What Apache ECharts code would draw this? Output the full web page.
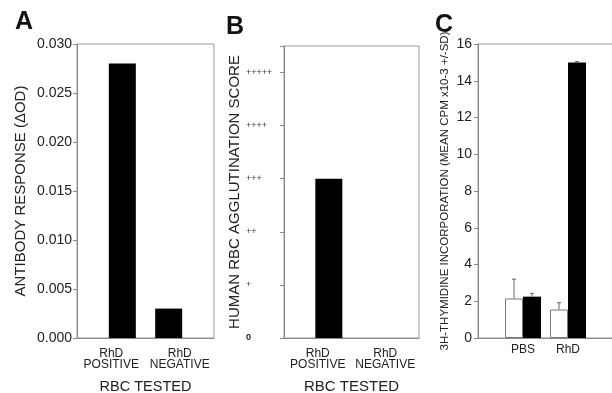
<!DOCTYPE html>
<html>
<head>
<meta charset="utf-8">
<script src="https://cdn.jsdelivr.net/npm/echarts@6/dist/echarts.min.js"></script>
<style>
  html, body { margin: 0; padding: 0; background: #fff; }
  #chart { width: 612px; height: 393px; }
</style>
</head>
<body>
<div id="chart"></div>
<script>
// panel A - antibody response
var aCategories = ['RhD\nPOSITIVE', 'RhD\nNEGATIVE'];
var aValues = [0.028, 0.003];
var aTicks = [0, 0.005, 0.010, 0.015, 0.020, 0.025, 0.030];

// panel B - agglutination score (0..5 shown as + signs)
var bCategories = ['RhD\nPOSITIVE', 'RhD\nNEGATIVE'];
var bValues = [3, 0];
var bTickLabels = ['0', '+', '++', '+++', '++++', '+++++'];

// panel C - 3H-thymidine incorporation
var cCategories = ['PBS', 'RhD'];
var cWhite = [2.15, 1.55];
var cWhiteSD = [1.05, 0.37];
var cBlack = [2.25, 15.0];
var cBlackSD = [0.18, 0.05];

var font = 'Liberation Sans, Arial, sans-serif';
var axisGray = '#8a8a8a';
var textColor = '#222';

var chart = echarts.init(document.getElementById('chart'));

// split the two bars of panel A/B into two series so they sit closer together
function splitFirst(arr) { return [arr[0], '-']; }
function splitSecond(arr) { return ['-', arr[1]]; }

// pad the C categories so the axis runs off the right edge like the original
var cAxisCats = [''].concat(cCategories).concat(['']);
function padC(arr) { return ['-'].concat(arr).concat(['-']); }

function errorBarItem(values, sds, offset) {
    var data = [];
    values.forEach(function (v, i) {
        data.push([i + 1, v, sds[i]]);
    });
    return {
        type: 'custom',
        xAxisIndex: 2,
        yAxisIndex: 2,
        z: 5,
        data: data,
        renderItem: function (params, api) {
            var x = api.value(0);
            var top = api.coord([x, api.value(1) + api.value(2)]);
            var base = api.coord([x, api.value(1)]);
            var cx = base[0] + offset;
            return {
                type: 'group',
                children: [
                    {type: 'line', shape: {x1: cx, y1: base[1], x2: cx, y2: top[1]}, style: {stroke: '#666', lineWidth: 1}},
                    {type: 'line', shape: {x1: cx - 2, y1: top[1], x2: cx + 2, y2: top[1]}, style: {stroke: '#666', lineWidth: 1}}
                ]
            };
        }
    };
}

var option = {
    animation: false,
    textStyle: {fontFamily: font},
    title: [
        {text: 'A', left: 10, top: 5, textStyle: {fontSize: 25, fontWeight: 'bold', color: '#111', fontFamily: font}},
        {text: 'B', left: 221, top: 10, textStyle: {fontSize: 25, fontWeight: 'bold', color: '#111', fontFamily: font}},
        {text: 'C', left: 430, top: 8, textStyle: {fontSize: 25, fontWeight: 'bold', color: '#111', fontFamily: font}}
    ],
    grid: [
        {left: 77, top: 44, width: 137, bottom: 55, outerBoundsMode: 'none', show: true, borderColor: '#999', borderWidth: 1},
        {left: 284, top: 46, width: 135, bottom: 55, outerBoundsMode: 'none', show: true, borderColor: '#999', borderWidth: 1},
        {left: 478, top: 44, width: 135, bottom: 55, outerBoundsMode: 'none', show: true, borderColor: '#999', borderWidth: 1}
    ],
    xAxis: [
        {
            gridIndex: 0, type: 'category', data: aCategories,
            name: 'RBC TESTED', nameLocation: 'middle', nameGap: 41,
            nameTextStyle: {fontSize: 14.5, color: textColor},
            axisLine: {lineStyle: {color: axisGray}},
            axisTick: {show: false},
            axisLabel: {interval: 0, hideOverlap: false, fontSize: 12, color: textColor, margin: 10, lineHeight: 11}
        },
        {
            gridIndex: 1, type: 'category', data: bCategories,
            name: 'RBC TESTED', nameLocation: 'middle', nameGap: 41,
            nameTextStyle: {fontSize: 15, color: textColor},
            axisLine: {lineStyle: {color: axisGray}},
            axisTick: {show: false},
            axisLabel: {interval: 0, hideOverlap: false, fontSize: 12, color: textColor, margin: 10, lineHeight: 11}
        },
        {
            gridIndex: 2, type: 'category', data: cAxisCats, boundaryGap: false,
            axisLine: {lineStyle: {color: axisGray}},
            axisTick: {show: false},
            axisLabel: {interval: 0, fontSize: 12, color: textColor, margin: 6}
        }
    ],
    yAxis: [
        {
            gridIndex: 0, type: 'value', min: aTicks[0], max: aTicks[aTicks.length - 1], interval: 0.005,
            name: 'ANTIBODY RESPONSE (\u0394OD)', nameLocation: 'middle', nameGap: 49,
            nameTextStyle: {fontSize: 15, color: textColor},
            axisLine: {show: true, lineStyle: {color: axisGray}},
            axisTick: {show: true, length: 4, lineStyle: {color: axisGray}},
            splitLine: {show: false},
            axisLabel: {fontSize: 14, color: textColor, margin: 5, formatter: function (v) { return v.toFixed(3); }}
        },
        {
            gridIndex: 1, type: 'value', min: 0, max: 5.5, interval: 1,
            name: 'HUMAN RBC AGGLUTINATION SCORE', nameLocation: 'middle', nameGap: 42,
            nameTextStyle: {fontSize: 15, color: textColor},
            axisLine: {show: true, lineStyle: {color: axisGray}},
            axisTick: {show: true, length: 4, lineStyle: {color: axisGray}},
            splitLine: {show: false},
            axisLabel: {
                fontSize: 9, color: '#444', margin: 38, align: 'left',
                formatter: function (v) {
                    if (v === 0) return '{z|0}';
                    return bTickLabels[v] || '';
                },
                rich: {z: {fontSize: 9, fontWeight: 'bold', color: '#222'}}
            }
        },
        {
            gridIndex: 2, type: 'value', min: 0, max: 16, interval: 2,
            name: '3H-THYMIDINE INCORPORATION (MEAN CPM x10-3 +/-SD)', nameLocation: 'middle', nameGap: 27,
            nameTextStyle: {fontSize: 11.5, color: textColor},
            axisLine: {show: true, lineStyle: {color: axisGray}},
            axisTick: {show: true, length: 4, lineStyle: {color: axisGray}},
            splitLine: {show: false},
            axisLabel: {fontSize: 14, color: textColor, margin: 6}
        }
    ],
    series: [
        {
            name: 'A-neg', type: 'bar', xAxisIndex: 0, yAxisIndex: 0,
            data: splitSecond(aValues), barWidth: 27, barGap: '-18%',
            itemStyle: {color: '#000'}
        },
        {
            name: 'A-pos', type: 'bar', xAxisIndex: 0, yAxisIndex: 0,
            data: splitFirst(aValues), barWidth: 27, barGap: '-18%',
            itemStyle: {color: '#000'}
        },
        {
            name: 'B-neg', type: 'bar', xAxisIndex: 1, yAxisIndex: 1,
            data: splitSecond(bValues), barWidth: 27, barGap: '-18%',
            itemStyle: {color: '#000'}
        },
        {
            name: 'B-pos', type: 'bar', xAxisIndex: 1, yAxisIndex: 1,
            data: splitFirst(bValues), barWidth: 27, barGap: '-18%',
            itemStyle: {color: '#000'}
        },
        {
            name: 'C-white', type: 'bar', xAxisIndex: 2, yAxisIndex: 2,
            data: padC(cWhite), barWidth: 18, barGap: '0%',
            itemStyle: {color: '#fff', borderColor: '#777', borderWidth: 1}
        },
        {
            name: 'C-black', type: 'bar', xAxisIndex: 2, yAxisIndex: 2,
            data: padC(cBlack), barWidth: 18, barGap: '0%',
            itemStyle: {color: '#000'}
        },
        errorBarItem(cWhite, cWhiteSD, -9),
        errorBarItem(cBlack, cBlackSD, 9)
    ]
};

chart.setOption(option);
</script>
</body>
</html>
